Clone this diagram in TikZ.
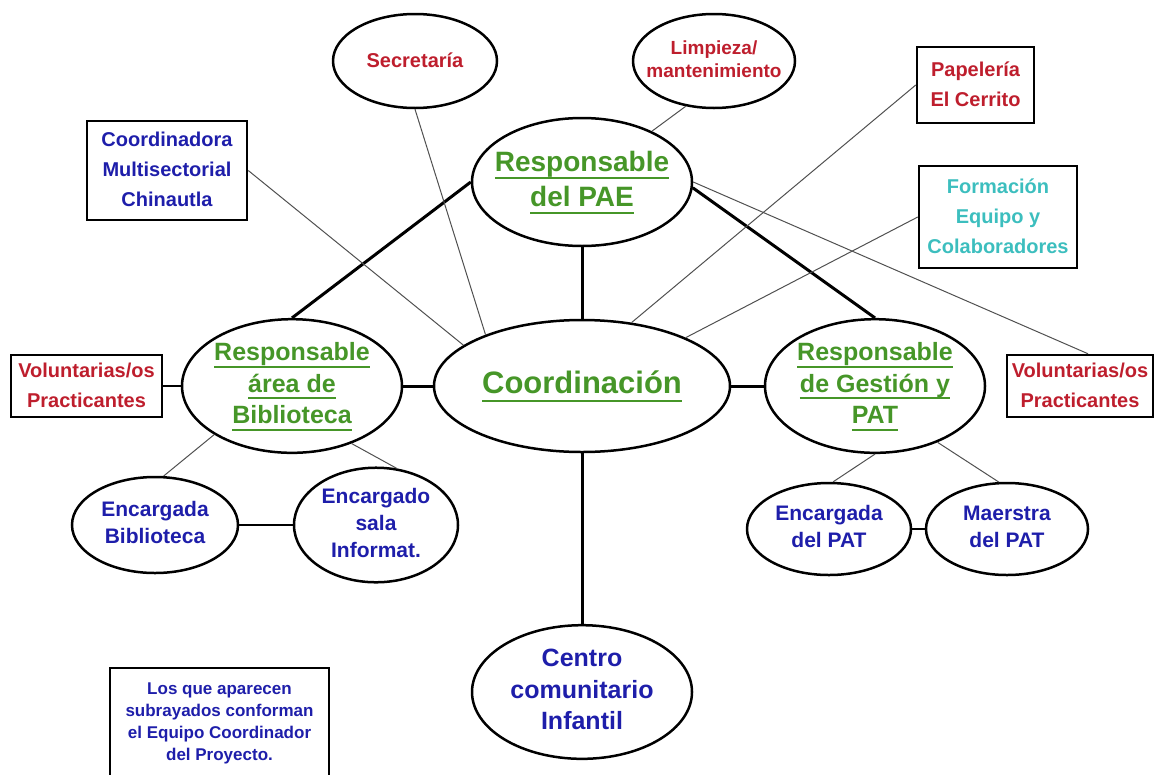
\documentclass[tikz,border=0pt]{standalone}
\usepackage{fontspec}
\setmainfont{Liberation Sans}
\usetikzlibrary{shapes.geometric}
\newcommand{\lineas}[1]{\makebox[0pt]{\begin{tabular}{@{}c@{}}#1\end{tabular}}}
\newcommand{\subrayar}[1]{\setbox0\hbox{#1}\rlap{\rule[-0.27em]{\wd0}{2pt}}\box0}
\definecolor{rojo}{RGB}{190,30,45}
\definecolor{azul}{RGB}{30,30,170}
\definecolor{verde}{RGB}{70,150,40}
\definecolor{cian}{RGB}{60,190,190}
\definecolor{gris}{RGB}{80,80,80}

\begin{document}
\begin{tikzpicture}[x=1pt,y=1pt,yscale=-1,xscale=1,
  elipse/.style={draw, ellipse, line width=2.5pt, inner sep=0pt},
  caja/.style={draw, rectangle, line width=2.5pt, inner sep=0pt},
  grueso/.style={line width=3pt},
  medio/.style={line width=2pt},
  fino/.style={line width=1pt, color=gris},
  f31/.style={font=\bfseries\fontsize{31}{36}\selectfont},
  f28/.style={font=\bfseries\fontsize{28}{35}\selectfont},
  f25/.style={font=\bfseries\fontsize{25}{31.5}\selectfont},
  f21/.style={font=\bfseries\fontsize{21}{27}\selectfont},
  f20/.style={font=\bfseries\fontsize{20}{30}\selectfont},
  f19/.style={font=\bfseries\fontsize{19}{23}\selectfont},
  f17/.style={font=\bfseries\fontsize{17}{22}\selectfont}]
\useasboundingbox (0,0) rectangle (1155,774);

%Shape: Ellipse (equipo coordinador)
\node [elipse, f31, text=verde, minimum width=296, minimum height=132] (coord) at (582,386) {\lineas{\subrayar{Coordinación}}};
\node [elipse, f28, text=verde, minimum width=220, minimum height=128] (pae) at (582,182) {\lineas{\subrayar{Responsable}\\\subrayar{del PAE}}};
\node [elipse, f25, text=verde, minimum width=220, minimum height=128] (biblio) at (292,386) {\lineas{\subrayar{Responsable}\\\subrayar{área de}\\\subrayar{Biblioteca}}};
\node [elipse, f25, text=verde, minimum width=220, minimum height=128] (gestion) at (875,386) {\lineas{\subrayar{Responsable}\\\subrayar{de Gestión y}\\\subrayar{PAT}}};

%Shape: Ellipse (apoyo)
\node [elipse, f20, text=rojo, minimum width=164, minimum height=94] (secretaria) at (415,61) {\lineas{Secretaría}};
\node [elipse, f19, text=rojo, minimum width=162, minimum height=94] (limpieza) at (714,61) {\lineas{Limpieza/\\mantenimiento}};
\node [elipse, f21, text=azul, minimum width=166, minimum height=96] (encbib) at (155,525) {\lineas{Encargada\\Biblioteca}};
\node [elipse, f21, text=azul, minimum width=164, minimum height=96] (sala) at (376,525) {\lineas{Encargado\\sala\\Informat.}};
\node [elipse, f21, text=azul, minimum width=164, minimum height=92] (encpat) at (829,529) {\lineas{Encargada\\del PAT}};
\node [elipse, f21, text=azul, minimum width=162, minimum height=92] (maestra) at (1007,529) {\lineas{Maerstra\\del PAT}};
\node [elipse, f25, text=azul, minimum width=220, minimum height=128] (centro) at (582,692) {\lineas{Centro\\comunitario\\Infantil}};

%Shape: Rectangle
\node [caja, f20, text=azul, minimum width=160, minimum height=99] (coordinadora) at (167,170.5) {\lineas{Coordinadora\\Multisectorial\\Chinautla}};
\node [caja, f20, text=rojo, minimum width=117, minimum height=76] (papeleria) at (975.5,85) {\lineas{Papelería\\El Cerrito}};
\node [caja, f20, text=cian, minimum width=158, minimum height=102] (formacion) at (998,217) {\lineas{Formación\\Equipo y\\Colaboradores}};
\node [caja, f20, text=rojo, minimum width=151, minimum height=62] (volizq) at (86.5,386) {\lineas{Voluntarias/os\\Practicantes}};
\node [caja, f20, text=rojo, minimum width=146, minimum height=62] (volder) at (1080,386) {\lineas{Voluntarias/os\\Practicantes}};
\node [caja, f17, text=azul, minimum width=219, minimum height=110] (nota) at (219.5,723) {\lineas{Los que aparecen\\subrayados conforman\\el Equipo Coordinador\\del Proyecto.}};

% Connectors
\draw [grueso] (pae.south) -- (coord.north);
\draw [grueso] (pae.west) -- (biblio.north);
\draw [grueso] (pae.-3) -- (gestion.north);
\draw [grueso] (biblio.east) -- (coord.west);
\draw [grueso] (coord.east) -- (gestion.west);
\draw [grueso] (coord.south) -- (centro.north);
\draw [medio] (volizq.east) -- (biblio.west);
\draw [medio] (encbib.east) -- (sala.west);
\draw [medio] (encpat.east) -- (maestra.west);
\draw [fino] (secretaria.south) -- (coord.152.5);
\draw [fino] (coordinadora.east) -- (coord.161);
\draw [fino] (limpieza.238) -- (pae.36);
\draw [fino] (papeleria.west) -- (coord.52);
\draw [fino] (formacion.west) -- (coord.25.5);
\draw [fino] (pae.east) -- ([xshift=8pt]volder.north);
\draw [fino] (biblio.212.5) -- (encbib.80);
\draw [fino] (biblio.-44.5) -- (sala.70);
\draw [fino] (gestion.south) -- (encpat.85);
\draw [fino] (gestion.-42) -- (maestra.100);

\end{tikzpicture}
\end{document}
